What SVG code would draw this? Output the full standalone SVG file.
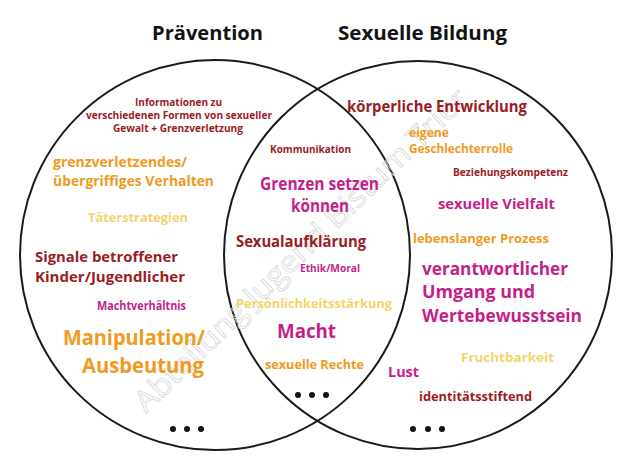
<svg xmlns="http://www.w3.org/2000/svg" width="630" height="473" viewBox="0 0 630 473">
<style>
text{font-family:"Open Sans","Noto Sans","Liberation Sans",sans-serif;font-weight:bold}
.t{fill:#141414;font-size:20px}
.dr{fill:#9b1c1f}
.or{fill:#f09a1e}
.ly{fill:#f5d36e}
.mg{fill:#c41e8a}
.c{fill:none;stroke:#1a1a1a;stroke-width:2}
.wm{fill:none;stroke:#d8d8d8;stroke-width:0.8;font-weight:normal;font-size:30px}
</style>
<rect width="630" height="473" fill="#fff"/>
<g id="circles">
<circle class="c" cx="215" cy="255" r="195"/>
<circle class="c" cx="418" cy="255" r="194"/>
</g>
<g id="watermark">
<text class="wm" x="0" y="0" transform="translate(146,414) rotate(-44)" textLength="450" lengthAdjust="spacingAndGlyphs">Abteilung Jugend Bistum Trier</text>
</g>
<g id="titles">
<text class="t" x="152" y="40" textLength="111" lengthAdjust="spacingAndGlyphs">Prävention</text>
<text class="t" x="338" y="40" textLength="169" lengthAdjust="spacingAndGlyphs">Sexuelle Bildung</text>
</g>
<g id="praevention">
<text class="dr" font-size="10" x="135" y="106" textLength="87" lengthAdjust="spacingAndGlyphs">Informationen zu</text>
<text class="dr" font-size="10" x="86" y="119" textLength="186" lengthAdjust="spacingAndGlyphs">verschiedenen Formen von sexueller</text>
<text class="dr" font-size="10" x="113" y="132" textLength="130" lengthAdjust="spacingAndGlyphs">Gewalt + Grenzverletzung</text>
<text class="or" font-size="15" x="53" y="167" textLength="134" lengthAdjust="spacingAndGlyphs">grenzverletzendes/</text>
<text class="or" font-size="15" x="53" y="186" textLength="161" lengthAdjust="spacingAndGlyphs">übergriffiges Verhalten</text>
<text class="ly" font-size="12.5" x="88" y="222" textLength="100" lengthAdjust="spacingAndGlyphs">Täterstrategien</text>
<text class="dr" font-size="15" x="35" y="262" textLength="143" lengthAdjust="spacingAndGlyphs">Signale betroffener</text>
<text class="dr" font-size="15" x="35" y="282" textLength="150" lengthAdjust="spacingAndGlyphs">Kinder/Jugendlicher</text>
<text class="mg" font-size="11.5" x="97" y="310" textLength="89" lengthAdjust="spacingAndGlyphs">Machtverhältnis</text>
<text class="or" font-size="21" x="63" y="345" textLength="142" lengthAdjust="spacingAndGlyphs">Manipulation/</text>
<text class="or" font-size="21" x="82" y="373" textLength="122" lengthAdjust="spacingAndGlyphs">Ausbeutung</text>
<g fill="#111"><circle cx="173" cy="429" r="3"/><circle cx="187" cy="429" r="3"/><circle cx="201" cy="429" r="3"/></g>
</g>
<g id="schnittmenge">
<text class="dr" font-size="10.5" x="270" y="153" textLength="81" lengthAdjust="spacingAndGlyphs">Kommunikation</text>
<text class="mg" font-size="17.5" x="260" y="190" textLength="119" lengthAdjust="spacingAndGlyphs">Grenzen setzen</text>
<text class="mg" font-size="17.5" x="291" y="212" textLength="58" lengthAdjust="spacingAndGlyphs">können</text>
<text class="dr" font-size="16" x="236" y="247" textLength="130" lengthAdjust="spacingAndGlyphs">Sexualaufklärung</text>
<text class="mg" font-size="11" x="300" y="272" textLength="60" lengthAdjust="spacingAndGlyphs">Ethik/Moral</text>
<text class="ly" font-size="13" x="236" y="308" textLength="156" lengthAdjust="spacingAndGlyphs">Persönlichkeitsstärkung</text>
<text class="mg" font-size="19" x="277" y="338" textLength="59" lengthAdjust="spacingAndGlyphs">Macht</text>
<text class="or" font-size="13" x="265" y="369" textLength="99" lengthAdjust="spacingAndGlyphs">sexuelle Rechte</text>
<g fill="#111"><circle cx="298" cy="395" r="3"/><circle cx="312" cy="395" r="3"/><circle cx="326" cy="395" r="3"/></g>
</g>
<g id="sexuelle-bildung">
<text class="dr" font-size="16" x="347" y="112" textLength="180" lengthAdjust="spacingAndGlyphs">körperliche Entwicklung</text>
<text class="or" font-size="12.5" x="409" y="137" textLength="40" lengthAdjust="spacingAndGlyphs">eigene</text>
<text class="or" font-size="12.5" x="409" y="153" textLength="104" lengthAdjust="spacingAndGlyphs">Geschlechterrolle</text>
<text class="dr" font-size="10.5" x="453" y="176" textLength="115" lengthAdjust="spacingAndGlyphs">Beziehungskompetenz</text>
<text class="mg" font-size="15" x="438" y="209" textLength="117" lengthAdjust="spacingAndGlyphs">sexuelle Vielfalt</text>
<text class="or" font-size="13" x="413" y="243" textLength="136" lengthAdjust="spacingAndGlyphs">lebenslanger Prozess</text>
<text class="mg" font-size="18" x="422" y="275" textLength="146" lengthAdjust="spacingAndGlyphs">verantwortlicher</text>
<text class="mg" font-size="18" x="422" y="298" textLength="113" lengthAdjust="spacingAndGlyphs">Umgang und</text>
<text class="mg" font-size="18" x="422" y="322" textLength="160" lengthAdjust="spacingAndGlyphs">Wertebewusstsein</text>
<text class="ly" font-size="13" x="461" y="362" textLength="93" lengthAdjust="spacingAndGlyphs">Fruchtbarkeit</text>
<text class="mg" font-size="15" x="388" y="377" textLength="31" lengthAdjust="spacingAndGlyphs">Lust</text>
<text class="dr" font-size="12.5" x="419" y="401" textLength="113" lengthAdjust="spacingAndGlyphs">identitätsstiftend</text>
<g fill="#111"><circle cx="413" cy="429" r="3"/><circle cx="428" cy="429" r="3"/><circle cx="442" cy="429" r="3"/></g>
</g>
</svg>
